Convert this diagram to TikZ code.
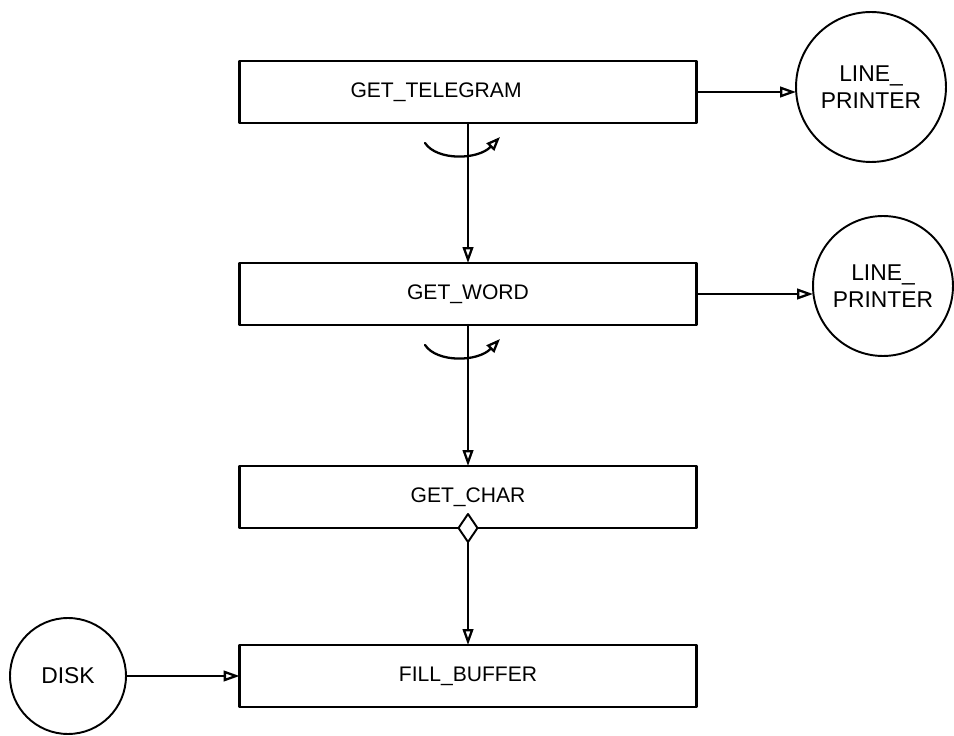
\documentclass[tikz,border=0pt]{standalone}
\usepackage{fontspec}
\setmainfont{Liberation Sans}
\usetikzlibrary{arrows.meta,positioning,calc,shapes.geometric}

\begin{document}
\begin{tikzpicture}[x=0.02cm, y=-0.02cm, line cap=round, line join=round,
                    every node/.style={outer sep=0pt}]

  \tikzset{
    module/.style={draw=black, line width=1.3pt, fill=white, minimum width=9.14cm,
                   minimum height=1.24cm, inner sep=0pt, font=\fontsize{12}{14}\selectfont},
    device/.style={circle, draw=black, line width=1.1pt, inner sep=0pt, align=center,
                   font=\fontsize{13}{15.5}\selectfont},
    flow/.style={line width=1.3pt, draw=black, -{Triangle[open, length=9pt, width=6pt]}},
    loopback/.style={line width=1.3pt, draw=black, -{Triangle[open, length=8pt, width=6pt]}},
    cond/.style={diamond, draw=black, line width=1.1pt, fill=white, minimum width=0.38cm,
                 minimum height=0.56cm, inner sep=0pt}
  }

  \path[use as bounding box] (0,0) rectangle (954,736);

  % Modules
  \node[module] (tel)  at (468,92)  {\makebox[4.7cm][l]{GET\_TELEGRAM}};
  \node[module] (word) at (468,294) {GET\_WORD};
  \node[module] (char) at (468,497) {GET\_CHAR};
  \node[module] (buf)  at (468,676) {FILL\_BUFFER};

  % Devices
  \node[device, minimum size=3.0cm]  (lp1)  at (871,87)  {LINE\_\\PRINTER};
  \node[device, minimum size=2.8cm]  (lp2)  at (883,286) {LINE\_\\PRINTER};
  \node[device, minimum size=2.32cm] (disk) at (68,676)  {DISK};

  \node[cond] (sel) at (char.south) {};

  % Calls down the chain
  \draw[flow] (tel.south) -- (word.north);
  \draw[flow] (word.south) -- (char.north);
  \draw[flow] (sel.south) -- (buf.north);

  % Data to and from devices
  \draw[flow] (tel.east) -- (tel.east -| lp1.west);
  \draw[flow] (word.east) -- (word.east -| lp2.west);
  \draw[flow] (disk.east) -- (buf.west);

  % Loops
  \foreach \m in {tel,word} {
    \coordinate (a) at ($(\m.south)+(-43,20)$);
    \coordinate (b) at ($(\m.south)+(32,14)$);
    \draw[loopback] (a) .. controls ($(a)+(12,18)$) and ($(b)+(-22,23)$) .. (b);
  }
\end{tikzpicture}
\end{document}
